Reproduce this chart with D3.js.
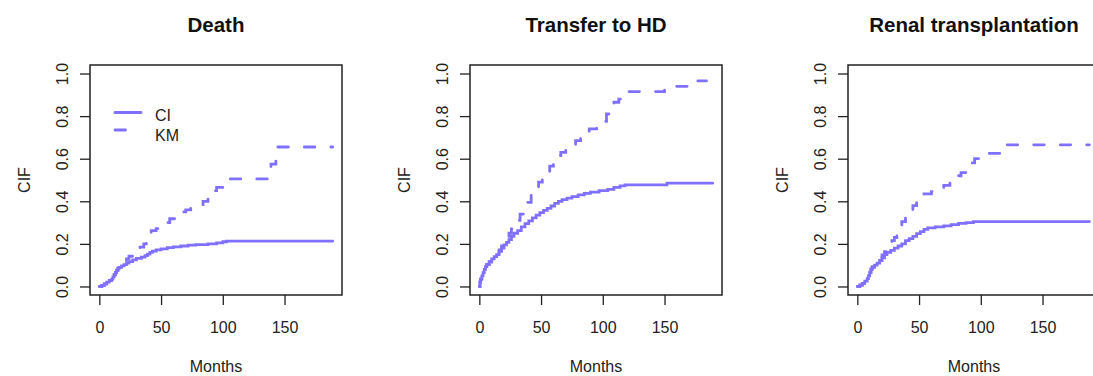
<!DOCTYPE html>
<html>
<head>
<meta charset="utf-8">
<script src="https://cdn.jsdelivr.net/npm/d3@7"></script>
<style>
  html, body { margin: 0; padding: 0; background: #fff; }
  svg { display: block; font-family: Arial, "Liberation Sans", sans-serif; }
</style>
</head>
<body>
<svg id="chart" width="1093" height="376"></svg>
<script>
// Cumulative incidence (CI) and 1-KM estimates, step points [month, value]
const titles = ["Death", "Transfer to HD", "Renal transplantation"];
const seriesNames = ["CI", "KM"];
const xTicks = [0, 50, 100, 150];
const yTicks = [0, 0.2, 0.4, 0.6, 0.8, 1.0];
const endMonths = [[189, 189], [189, 184], [188, 188]];

const deathCI = [[0,0],[2,0.005],[4,0.012],[6,0.02],[8,0.028],[10,0.035],[11,0.045],[12,0.055],[13,0.065],[14,0.075],[15,0.083],[16,0.09],[18,0.097],[20,0.103],[22,0.11],[24,0.117],[27,0.125],[30,0.132],[34,0.138],[37,0.145],[39,0.152],[41,0.16],[43,0.166],[46,0.172],[50,0.177],[55,0.182],[60,0.186],[66,0.19],[72,0.194],[78,0.197],[88,0.2],[95,0.205],[100,0.21],[103,0.213]];
const deathKM = [[0,0],[2,0.005],[4,0.012],[6,0.02],[8,0.028],[10,0.036],[11,0.046],[12,0.056],[13,0.066],[14,0.077],[15,0.086],[16,0.094],[18,0.103],[20,0.112],[22,0.13],[24,0.142],[27,0.155],[30,0.17],[33,0.185],[36,0.2],[38,0.22],[40,0.245],[42,0.262],[46,0.272],[50,0.285],[54,0.3],[57,0.318],[61,0.335],[65,0.35],[70,0.36],[74,0.37],[80,0.385],[84,0.4],[88,0.425],[91,0.45],[95,0.465],[101,0.505],[137,0.53],[139,0.575],[143,0.655]];

const hdCI = [[0,0],[0.5,0.02],[1,0.035],[2,0.05],[3,0.065],[4,0.08],[5,0.093],[6,0.103],[8,0.115],[10,0.13],[12,0.14],[14,0.15],[16,0.165],[18,0.18],[20,0.195],[22,0.207],[24,0.22],[26,0.235],[28,0.25],[31,0.262],[34,0.28],[37,0.295],[40,0.308],[43,0.322],[46,0.335],[49,0.347],[52,0.357],[55,0.367],[58,0.378],[61,0.39],[64,0.4],[67,0.408],[71,0.415],[75,0.422],[80,0.43],[85,0.437],[90,0.443],[97,0.45],[104,0.456],[109,0.465],[114,0.472],[118,0.477],[152,0.485]];
const hdKM = [[0,0],[0.5,0.02],[1,0.035],[2,0.05],[3,0.065],[4,0.08],[5,0.094],[6,0.104],[8,0.117],[10,0.133],[12,0.144],[14,0.156],[16,0.172],[18,0.19],[20,0.208],[22,0.225],[24,0.25],[26,0.27],[28,0.29],[30,0.31],[33,0.34],[36,0.37],[39,0.395],[42,0.43],[45,0.46],[48,0.49],[51,0.515],[54,0.54],[57,0.565],[60,0.59],[63,0.615],[66,0.63],[70,0.645],[74,0.665],[78,0.685],[82,0.705],[86,0.72],[89,0.74],[95,0.75],[100,0.775],[103,0.81],[106,0.84],[109,0.865],[113,0.88],[118,0.915],[150,0.94],[172,0.965]];

const rtCI = [[0,0],[2,0.006],[4,0.015],[6,0.025],[8,0.037],[9,0.05],[10,0.065],[11,0.08],[12,0.09],[14,0.1],[16,0.11],[18,0.122],[20,0.135],[22,0.15],[24,0.16],[27,0.17],[30,0.18],[33,0.19],[36,0.2],[39,0.215],[42,0.225],[45,0.235],[48,0.248],[51,0.258],[54,0.268],[57,0.275],[63,0.28],[70,0.285],[76,0.29],[82,0.296],[88,0.3],[94,0.305]];
const rtKM = [[0,0],[2,0.006],[4,0.015],[6,0.025],[8,0.037],[9,0.05],[10,0.066],[11,0.082],[12,0.093],[14,0.104],[16,0.117],[18,0.13],[20,0.148],[22,0.163],[24,0.18],[26,0.2],[28,0.215],[30,0.23],[32,0.255],[34,0.28],[36,0.305],[39,0.33],[42,0.36],[45,0.38],[48,0.4],[51,0.42],[54,0.435],[60,0.445],[64,0.46],[70,0.475],[75,0.5],[79,0.52],[84,0.535],[88,0.56],[91,0.58],[95,0.6],[99,0.625],[117,0.665]];

const panelData = [[deathCI, deathKM], [hdCI, hdKM], [rtCI, rtKM]];

// Layout
const panelLeft = [90, 470, 848];
const boxTop = 65, boxW = 252, boxH = 230;
const lineColor = "#8070ff";
const lineWidth = 2.8;
const dash = "10.5,16";
const xMax = 189;

const svg = d3.select("#chart");
svg.append("rect").attr("width", 1093).attr("height", 376).attr("fill", "#fff");

const x = d3.scaleLinear().domain([-0.04 * xMax, 1.04 * xMax]).range([0, boxW]);
const y = d3.scaleLinear().domain([-0.04, 1.04]).range([boxH, 0]);

const line = d3.line()
  .x(d => x(d[0]))
  .y(d => y(d[1]))
  .curve(d3.curveStepAfter);

panelData.forEach((pair, i) => {
  const g = svg.append("g").attr("transform", `translate(${panelLeft[i]},${boxTop})`);

  pair.forEach((pts, k) => {
    const last = pts[pts.length - 1];
    const full = pts.concat([[endMonths[i][k], last[1]]]);
    g.append("path")
      .attr("d", line(full))
      .attr("fill", "none")
      .attr("stroke", lineColor)
      .attr("stroke-width", lineWidth)
      .attr("stroke-linecap", "round")
      .attr("stroke-dasharray", k === 1 ? dash : null);
  });

  // plot frame
  g.append("rect")
    .attr("x", 0).attr("y", 0).attr("width", boxW).attr("height", boxH)
    .attr("fill", "none").attr("stroke", "#222").attr("stroke-width", 1.5);

  // x axis
  const xAxis = g.append("g").attr("transform", `translate(0,${boxH})`)
    .call(d3.axisBottom(x).tickValues(xTicks).tickSize(10).tickFormat(d3.format("d")));
  xAxis.select(".domain").remove();
  xAxis.selectAll(".tick line").attr("stroke", "#222").attr("stroke-width", 1.3);
  xAxis.selectAll(".tick text")
    .attr("y", 0).attr("dy", null)
    .attr("transform", "translate(0,38)")
    .attr("font-size", 16).attr("fill", "#222")
    .attr("font-family", "Arial, 'Liberation Sans', sans-serif");

  // y axis with rotated labels
  const yAxis = g.append("g")
    .call(d3.axisLeft(y).tickValues(yTicks).tickSize(10).tickFormat(d3.format(".1f")));
  yAxis.select(".domain").remove();
  yAxis.selectAll(".tick line").attr("stroke", "#222").attr("stroke-width", 1.3);
  yAxis.selectAll(".tick text")
    .attr("x", null).attr("dy", null)
    .attr("text-anchor", "middle")
    .attr("transform", "translate(-22,0) rotate(-90)")
    .attr("font-size", 16).attr("fill", "#222")
    .attr("font-family", "Arial, 'Liberation Sans', sans-serif");

  // titles and axis labels
  g.append("text")
    .attr("x", boxW / 2).attr("y", 32 - boxTop)
    .attr("text-anchor", "middle")
    .attr("font-size", 20.5).attr("font-weight", "bold").attr("fill", "#111")
    .text(titles[i]);

  g.append("text")
    .attr("x", boxW / 2).attr("y", 372 - boxTop)
    .attr("text-anchor", "middle")
    .attr("font-size", 16).attr("fill", "#222")
    .text("Months");

  g.append("text")
    .attr("transform", `translate(${30 - 90},${boxH / 2}) rotate(-90)`)
    .attr("text-anchor", "middle")
    .attr("font-size", 16).attr("fill", "#222")
    .text("CIF");

  // legend in the first panel
  if (i === 0) {
    const lg = g.append("g").attr("transform", "translate(25,0)");
    seriesNames.forEach((name, k) => {
      const ly = k === 0 ? 47.5 : 65;
      lg.append("line")
        .attr("x1", 0).attr("x2", 26).attr("y1", ly).attr("y2", ly)
        .attr("stroke", lineColor).attr("stroke-width", lineWidth)
        .attr("stroke-linecap", "round")
        .attr("stroke-dasharray", k === 1 ? dash : null);
      lg.append("text")
        .attr("x", 40).attr("y", k === 0 ? 55.5 : 75.5)
        .attr("font-size", 16).attr("fill", "#222")
        .text(name);
    });
  }
});
</script>
</body>
</html>
